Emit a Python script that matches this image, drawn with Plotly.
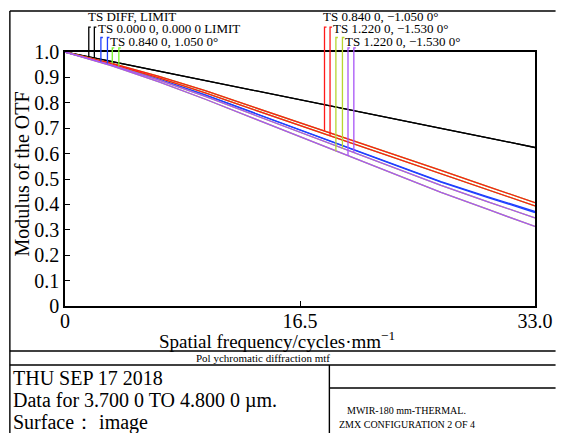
import numpy as np
import plotly.graph_objects as go

# ---------------- data ----------------
freq = [0, 3.3, 6.6, 9.9, 13.2, 16.5, 19.8, 23.1, 26.4, 29.7, 33.0]

diff_t = [1.0, 0.962, 0.924, 0.887, 0.849, 0.812, 0.774, 0.737, 0.699, 0.662, 0.624]
diff_s = [1.0, 0.962, 0.924, 0.887, 0.849, 0.812, 0.774, 0.737, 0.699, 0.662, 0.624]

f0_t = [1.0, 0.950, 0.893, 0.830, 0.762, 0.694, 0.625, 0.557, 0.490, 0.430, 0.372]
f0_s = [1.0, 0.950, 0.892, 0.829, 0.761, 0.692, 0.623, 0.555, 0.488, 0.427, 0.368]

fp084_t = [1.0, 0.955, 0.904, 0.847, 0.784, 0.722, 0.660, 0.597, 0.534, 0.470, 0.407]
fp084_s = [1.0, 0.952, 0.898, 0.838, 0.774, 0.711, 0.647, 0.584, 0.520, 0.457, 0.394]

fm084_t = [1.0, 0.955, 0.904, 0.847, 0.784, 0.722, 0.660, 0.597, 0.534, 0.470, 0.407]
fm084_s = [1.0, 0.952, 0.898, 0.838, 0.774, 0.711, 0.647, 0.584, 0.520, 0.457, 0.394]

f122a_t = [1.0, 0.945, 0.882, 0.813, 0.740, 0.666, 0.592, 0.518, 0.447, 0.380, 0.313]
f122a_s = [1.0, 0.948, 0.889, 0.824, 0.754, 0.684, 0.613, 0.543, 0.475, 0.410, 0.347]

f122b_t = [1.0, 0.945, 0.882, 0.813, 0.740, 0.666, 0.592, 0.518, 0.447, 0.380, 0.313]
f122b_s = [1.0, 0.948, 0.889, 0.824, 0.754, 0.684, 0.613, 0.543, 0.475, 0.410, 0.347]

labels = ["TS DIFF, LIMIT", "TS 0.000 0, 0.000 0 LIMIT", "TS 0.840 0, 1.050 0°",
          "TS 0.840 0, \u22121.050 0°", "TS 1.220 0, \u22121.530 0°", "TS 1.220 0, \u22121.530 0°"]

y_ticks = [0, 0.1, 0.2, 0.3, 0.4, 0.5, 0.6, 0.7, 0.8, 0.9, 1.0]
y_ticktext = ["0", "0.1", "0.2", "0.3", "0.4", "0.5", "0.6", "0.7", "0.8", "0.9", "1.0"]
x_ticks = [0, 16.5, 33.0]
x_ticktext = ["0", "16.5", "33.0"]

# ---------------- style ----------------
FONT = "Liberation Serif"
colors = ["#000000", "#2040ff", "#7cf52a", "#ff1a1a", "#b8d630", "#a855f7"]
series = [(diff_t, diff_s), (f0_t, f0_s), (fp084_t, fp084_s),
          (fm084_t, fm084_s), (f122a_t, f122a_s), (f122b_t, f122b_s)]
# legend pointer positions (frequency of the two pointer lines, top in paper units)
ptr_x = [(1.67, 2.06), (2.52, 2.98), (3.32, 3.78),
         (18.22, 18.61), (19.02, 19.48), (19.87, 20.28)]
ptr_top = [1.098, 1.057, 1.016, 1.098, 1.057, 1.016]
lab_x = [1.44, 2.20, 3.03, 17.99, 18.70, 19.53]
lab_y = [1.138, 1.091, 1.043, 1.138, 1.091, 1.043]

# page body margin offset (8px) compensation
OX, OY = 8, 8
W, H = 565 - OX, 433 - OY
# plot area in screen pixels: x 65..545, y 52..306
SX0, SX1, SY0, SY1 = 65, 545, 52, 306
ML, MR, MT, MB = SX0 - OX, (W + OX) - SX1, SY0 - OY, (H + OY) - SY1
PW, PH = SX1 - SX0, SY1 - SY0


def px(x):
    return (x - SX0) / PW


def py(y):
    return (SY1 - y) / PH


fig = go.Figure()
for (t, s), c in zip(series, colors):
    for v in (t, s):
        fig.add_trace(go.Scatter(x=freq, y=v, mode="lines",
                                 line=dict(color=c, width=1.3),
                                 hoverinfo="skip", showlegend=False))

shapes = []
annotations = []
for i, ((t, s), c) in enumerate(zip(series, colors)):
    for xv, curve in zip(ptr_x[i], (t, s)):
        yb = float(np.interp(xv, freq, curve))
        shapes.append(dict(type="path", xref="x", yref="paper",
                           path=f"M {xv + 0.14},{ptr_top[i]} L {xv},{ptr_top[i]} L {xv},{yb}",
                           line=dict(color=c, width=1.3)))
    annotations.append(dict(x=lab_x[i], y=lab_y[i], xref="x", yref="paper",
                            text=labels[i], showarrow=False, xanchor="left",
                            yanchor="middle",
                            font=dict(family=FONT, size=13, color="black")))

# outer report frame (screen pixel coordinates)
LW = 1.4
frame_lines = [
    (8.7, 11, 566, 11), (8.7, 11, 8.7, 434),
    (8.7, 351, 566, 351), (8.7, 365, 566, 365),
    (335, 365, 335, 434), (335, 388, 566, 388),
]
for x0, y0, x1, y1 in frame_lines:
    shapes.append(dict(type="line", xref="paper", yref="paper",
                       x0=px(x0), y0=py(y0), x1=px(x1), y1=py(y1),
                       line=dict(color="black", width=LW)))

texts = [
    ("Modulus of the OTF", 21, 173.5, 20, "center", -90),
    ("Spatial frequency/cycles\u00b7mm<sup>\u22121</sup>", 282, 340, 19, "center", 0),
    ("Pol ychromatic diffraction mtf", 267, 358, 11, "center", 0),
    ("THU SEP 17 2018", 10, 378, 20, "left", 0),
    ("Data for 3.700 0 TO 4.800 0 \u00b5m.", 10, 400, 20, "left", 0),
    ("Surface\uff1a image", 10, 422, 20, "left", 0),
    ("MWIR-180 mm-THERMAL.", 414, 410, 10, "center", 0),
    ("ZMX CONFIGURATION 2 OF 4", 414, 424, 10, "center", 0),
]
for txt, x, y, size, anchor, ang in texts:
    annotations.append(dict(x=px(x), y=py(y), xref="paper", yref="paper",
                            text=txt, showarrow=False, xanchor=anchor,
                            yanchor="middle", textangle=ang,
                            font=dict(family=FONT, size=size, color="black")))

fig.update_layout(
    width=W, height=H,
    margin=dict(l=ML, r=MR, t=MT, b=MB),
    paper_bgcolor="white", plot_bgcolor="white",
    font=dict(family=FONT, color="black"),
    shapes=shapes, annotations=annotations,
    xaxis=dict(range=[0, 33], tickvals=x_ticks, ticktext=x_ticktext,
               ticks="inside", ticklen=5, tickwidth=1.2, tickcolor="black",
               ticklabelstandoff=-4,
               showgrid=False, zeroline=False, showline=True, linecolor="black",
               linewidth=1.6, mirror=True, tickfont=dict(family=FONT, size=20)),
    yaxis=dict(range=[0, 1.0], tickvals=y_ticks, ticktext=y_ticktext,
               ticks="inside", ticklen=5, tickwidth=1.2, tickcolor="black",
               showgrid=False, zeroline=False, showline=True, linecolor="black",
               linewidth=1.6, mirror=True, tickfont=dict(family=FONT, size=20)),
)

fig.write_html("out.html")
